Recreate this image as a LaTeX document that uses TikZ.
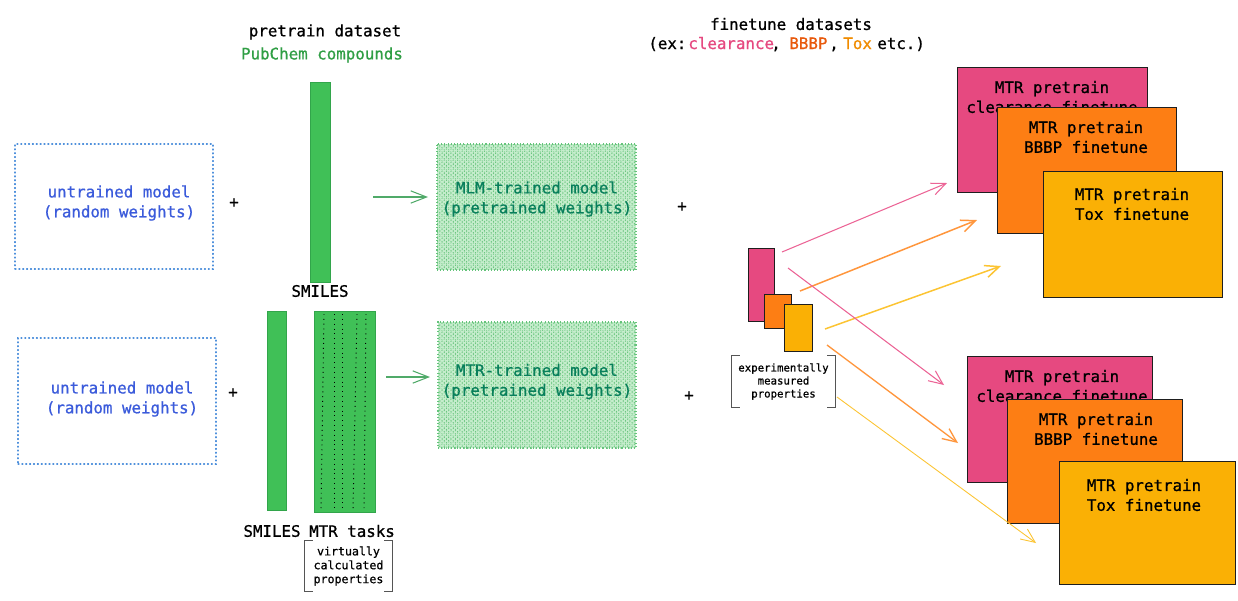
\documentclass[tikz,border=0pt]{standalone}
\usepackage{fontspec}
\setmainfont{DejaVu Sans Mono}[FakeBold=0.8]
\usetikzlibrary{arrows.meta,patterns.meta}

\definecolor{pinkc}{HTML}{E64980}
\definecolor{orangec}{HTML}{FD7E14}
\definecolor{yellowc}{HTML}{FAB005}
\definecolor{pinkarr}{RGB}{236,100,150}
\definecolor{orangearr}{RGB}{255,150,60}
\definecolor{yellowarr}{RGB}{252,196,50}
\definecolor{barfill}{HTML}{40C057}
\definecolor{bardraw}{RGB}{50,165,75}
\definecolor{bluetxt}{HTML}{3B5BDB}
\definecolor{dotblue}{RGB}{80,145,220}
\definecolor{pubgreen}{HTML}{2F9E44}
\definecolor{hatchbg}{RGB}{198,237,205}
\definecolor{hatchline}{RGB}{100,195,122}
\definecolor{hatchborder}{RGB}{100,195,122}
\definecolor{modeltxt}{HTML}{087F5B}
\definecolor{cardborder}{HTML}{1E1E1E}
\definecolor{brkgray}{RGB}{85,85,85}
\definecolor{greenarr}{RGB}{80,170,105}
\definecolor{bbbpc}{HTML}{E8590C}
\definecolor{toxc}{HTML}{F08C00}

\newcommand\mainfs{\fontsize{9}{11.3}\selectfont}
\newcommand\smallfsA{\fontsize{6.6}{7.9}\selectfont}
\newcommand\smallfsB{\fontsize{6.1}{7.4}\selectfont}

\begin{document}
\begin{tikzpicture}[x=0.02cm,y=-0.02cm,
  every node/.style={font=\mainfs, inner sep=0pt},
  dotbox/.style={draw=dotblue, line width=0.6pt, dash pattern=on 0.6pt off 1.6pt, line cap=round},
  hatchbox/.style={draw=hatchborder, line width=0.6pt, dash pattern=on 0.6pt off 1.2pt, fill=hatchbg,
    postaction={pattern={Lines[angle=45,distance=1.8pt,line width=0.4pt]}, pattern color=hatchline},
    postaction={pattern={Lines[angle=-45,distance=1.8pt,line width=0.4pt]}, pattern color=hatchline}},
  bar/.style={draw=bardraw, fill=barfill, line width=0.5pt, anchor=north west},
  card/.style={draw=cardborder, line width=0.6pt, anchor=north west},
  cardtxt/.style={align=center, text=black},
  bluet/.style={align=center, text=bluetxt},
  modelt/.style={align=center, text=modeltxt},
  brk/.style={draw=brkgray, line width=0.6pt},
  arr/.style={line width=0.6pt, -{Straight Barb[length=8pt,width=7pt]}},
  garr/.style={draw=greenarr, line width=0.6pt, -{Straight Barb[length=9pt,width=7pt]}},
  dots/.style={draw=black, line width=0.55pt, dash pattern=on 0.55pt off 2.2pt}
]
\fill[white] (0,0) rectangle (1238,600);
\useasboundingbox (0,0) rectangle (1238,600);

% ---------- top row ----------
\node[dotbox, minimum width=3.96cm, minimum height=2.50cm] (u1) at (114,206.5) {};
\node[bluet] (u1t) at (119,203) {untrained model\\(random weights)};
\node (plus1) at (234,203) {+};

\node[align=center] (ptd) at (325,32) {pretrain dataset};
\node[text=pubgreen] (pub) at (322,55) {PubChem compounds};
\node[bar, minimum width=0.40cm, minimum height=4.00cm] (bar1) at (310,82) {};
\node (sm1) at (320,291) {SMILES};

\coordinate (g1s) at (373,197);
\coordinate (g1e) at (428,197);
\draw[garr] (g1s) -- (g1e);

\node[hatchbox, minimum width=3.98cm, minimum height=2.52cm] (mlm) at (536.5,207) {};
\node[modelt] (mlmt) at (537,199) {MLM-trained model\\(pretrained weights)};
\node (plus3) at (682,207) {+};

% ---------- bottom row ----------
\node[dotbox, minimum width=3.96cm, minimum height=2.52cm] (u2) at (117,401) {};
\node[bluet] (u2t) at (122,399) {untrained model\\(random weights)};
\node (plus2) at (233,393) {+};

\node[bar, minimum width=0.38cm, minimum height=3.98cm] (bar2) at (267,311) {};
\node[bar, minimum width=1.22cm, minimum height=4.02cm] (bar3) at (314,311) {};
\draw[dots] (324,314) -- (321,509);
\draw[dots] (334,314) -- (334,509);
\draw[dots] (342,314) -- (342,509);
\draw[dots] (357,314) -- (353,509);
\draw[dots] (366,314) -- (364,509);
\node (sm2) at (272,531) {SMILES};
\node (mtrt) at (352,531) {MTR tasks};

\node[font=\smallfsA, align=center, minimum width=1.74cm, minimum height=1.0cm] (vc) at (348.5,566) {virtually\\calculated\\properties};
\draw[brk] ([xshift=0.16cm]vc.north west) -- (vc.north west) -- (vc.south west) -- ([xshift=0.16cm]vc.south west);
\draw[brk] ([xshift=-0.16cm]vc.north east) -- (vc.north east) -- (vc.south east) -- ([xshift=-0.16cm]vc.south east);

\coordinate (g2s) at (386,377);
\coordinate (g2e) at (430,377);
\draw[garr] (g2s) -- (g2e);

\node[hatchbox, minimum width=3.96cm, minimum height=2.52cm] (mtr) at (537,385) {};
\node[modelt] (mtrtx) at (537,381.5) {MTR-trained model\\(pretrained weights)};
\node (plus4) at (689,396) {+};

% ---------- finetune header ----------
\node (ftd) at (791,24) {finetune datasets};
\node[anchor=base west] (ex1) at (648,49) {(ex:};
\node[anchor=base west, text=pinkc] (ex2) at (688,49) {clearance};
\node[anchor=base west] (ex3) at (771,49) {,};
\node[anchor=base west, text=bbbpc] (ex4) at (789,49) {BBBP};
\node[anchor=base west] (ex5) at (829,49) {,};
\node[anchor=base west, text=toxc] (ex6) at (843,49) {Tox};
\node[anchor=base west] (ex7) at (877,49) {etc.)};

% ---------- small measured properties ----------
\node[card, fill=pinkc, minimum width=0.52cm, minimum height=1.46cm] (sp) at (748,248) {};
\node[card, fill=orangec, minimum width=0.54cm, minimum height=0.68cm] (so) at (764,294) {};
\node[card, fill=yellowc, minimum width=0.56cm, minimum height=0.94cm] (sy) at (784,304) {};
\node[font=\smallfsB, align=center, minimum width=2.06cm, minimum height=1.02cm] (ex) at (783.5,381.5) {experimentally\\measured\\properties};
\draw[brk] ([xshift=0.16cm]ex.north west) -- (ex.north west) -- (ex.south west) -- ([xshift=0.16cm]ex.south west);
\draw[brk] ([xshift=-0.16cm]ex.north east) -- (ex.north east) -- (ex.south east) -- ([xshift=-0.16cm]ex.south east);

% ---------- top cards ----------
\node[card, fill=pinkc, minimum width=3.80cm, minimum height=2.50cm] (p1) at (957,67) {};
\node[cardtxt] (p1t) at (1052,97) {MTR pretrain\\clearance finetune};
\node[card, fill=orangec, minimum width=3.58cm, minimum height=2.52cm] (o1) at (997,107) {};
\node[cardtxt] (o1t) at (1086,137) {MTR pretrain\\BBBP finetune};
\node[card, fill=yellowc, minimum width=3.58cm, minimum height=2.52cm] (y1) at (1043,171) {};
\node[cardtxt] (y1t) at (1132,204) {MTR pretrain\\Tox finetune};

% ---------- bottom cards ----------
\node[card, fill=pinkc, minimum width=3.70cm, minimum height=2.52cm] (p2) at (967,356) {};
\node[cardtxt] (p2t) at (1062,386) {MTR pretrain\\clearance finetune};
\node[card, fill=orangec, minimum width=3.50cm, minimum height=2.48cm] (o2) at (1007,399) {};
\node[cardtxt] (o2t) at (1096,429) {MTR pretrain\\BBBP finetune};
\node[card, fill=yellowc, minimum width=3.52cm, minimum height=2.46cm] (y2) at (1059,461) {};
\node[cardtxt] (y2t) at (1144,495) {MTR pretrain\\Tox finetune};

% ---------- arrows to cards ----------
\coordinate (a1s) at (782,252); \coordinate (a1e) at (947,183);
\coordinate (a2s) at (800,291); \coordinate (a2e) at (977,220);
\coordinate (a3s) at (825,329); \coordinate (a3e) at (1001,266);
\coordinate (b1s) at (788,268); \coordinate (b1e) at (944,385);
\coordinate (b2s) at (827,345); \coordinate (b2e) at (958,443);
\coordinate (b3s) at (837,397); \coordinate (b3e) at (1036,543);
\draw[arr, draw=pinkarr] (a1s) -- (a1e);
\draw[arr, draw=orangearr, line width=0.85pt] (a2s) -- (a2e);
\draw[arr, draw=yellowarr, line width=0.85pt] (a3s) -- (a3e);
\draw[arr, draw=pinkarr] (b1s) -- (b1e);
\draw[arr, draw=orangearr, line width=0.75pt] (b2s) -- (b2e);
\draw[arr, draw=yellowarr, line width=0.5pt] (b3s) -- (b3e);
\end{tikzpicture}
\end{document}
